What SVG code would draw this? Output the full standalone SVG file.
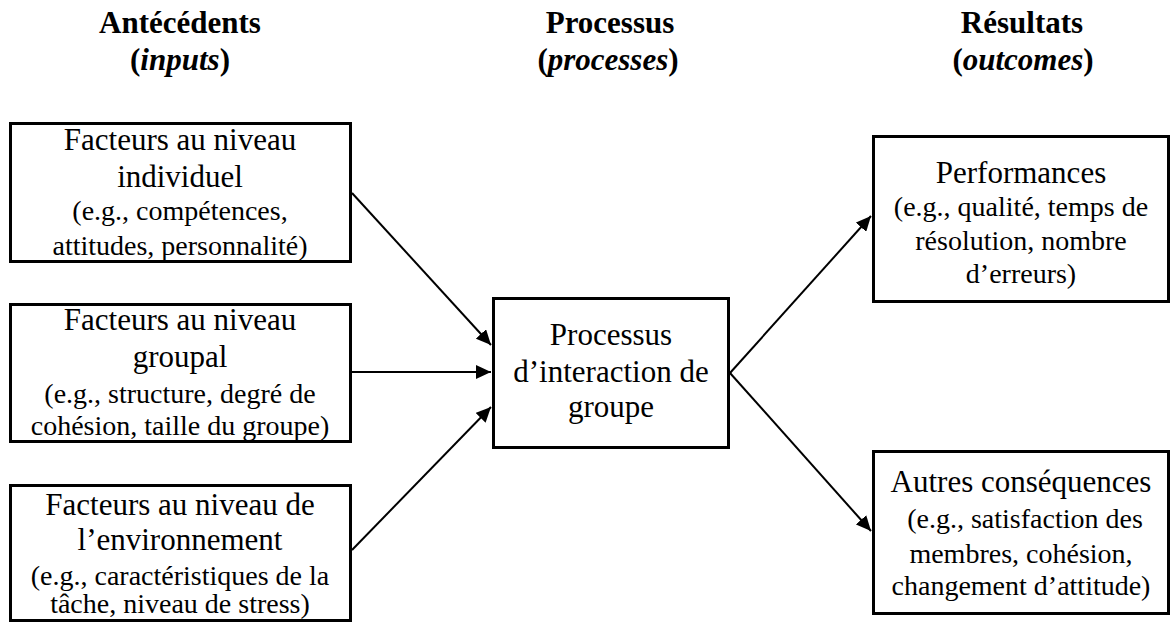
<svg xmlns="http://www.w3.org/2000/svg" width="1172" height="624" viewBox="0 0 1172 624">
<style>
.box{fill:#fff;stroke:#000;stroke-width:3}
.c{stroke:#000;stroke-width:2;fill:none}
</style>
<defs>
<marker id="ah" markerUnits="userSpaceOnUse" markerWidth="16" markerHeight="14" refX="15" refY="7" orient="auto">
<path d="M0,0 L15,7 L0,14 z" fill="#000"/>
</marker>
</defs>
<rect width="1172" height="624" fill="#fff"/>
<g id="headers" text-anchor="middle">
<text x="180" y="33" style="font-family:'Liberation Serif',serif !important;font-size:31px;font-weight:bold">Ant&#233;c&#233;dents</text>
<text x="180" y="70" style="font-family:'Liberation Serif',serif !important;font-size:31px;font-weight:bold">(<tspan font-style="italic">inputs</tspan>)</text>
<text x="610" y="33" style="font-family:'Liberation Serif',serif !important;font-size:31px;font-weight:bold">Processus</text>
<text x="608" y="70" style="font-family:'Liberation Serif',serif !important;font-size:31px;font-weight:bold">(<tspan font-style="italic">processes</tspan>)</text>
<text x="1022" y="33" style="font-family:'Liberation Serif',serif !important;font-size:31px;font-weight:bold">R&#233;sultats</text>
<text x="1023" y="70" style="font-family:'Liberation Serif',serif !important;font-size:31px;font-weight:bold">(<tspan font-style="italic">outcomes</tspan>)</text>
</g>
<g id="connectors">
<line class="c" x1="352" y1="193" x2="491" y2="345" marker-end="url(#ah)"/>
<line class="c" x1="352" y1="372" x2="491" y2="372" marker-end="url(#ah)"/>
<line class="c" x1="352" y1="550" x2="491" y2="407" marker-end="url(#ah)"/>
<line class="c" x1="730" y1="373" x2="871" y2="216" marker-end="url(#ah)"/>
<line class="c" x1="730" y1="373" x2="871" y2="531" marker-end="url(#ah)"/>
</g>
<g id="individuel" text-anchor="middle">
<rect class="box" x="10.5" y="123.5" width="340" height="138"/>
<text x="180" y="150" style="font-family:'Liberation Serif',serif !important;font-size:31px">Facteurs au niveau</text>
<text x="180" y="187" style="font-family:'Liberation Serif',serif !important;font-size:31px">individuel</text>
<text x="180" y="220" style="font-family:'Liberation Serif',serif !important;font-size:28px">(e.g., comp&#233;tences,</text>
<text x="180" y="255" style="font-family:'Liberation Serif',serif !important;font-size:28px">attitudes, personnalit&#233;)</text>
</g>
<g id="groupal" text-anchor="middle">
<rect class="box" x="10.5" y="304.5" width="340" height="137"/>
<text x="180" y="330" style="font-family:'Liberation Serif',serif !important;font-size:31px">Facteurs au niveau</text>
<text x="180" y="367" style="font-family:'Liberation Serif',serif !important;font-size:31px">groupal</text>
<text x="180" y="403" style="font-family:'Liberation Serif',serif !important;font-size:28px">(e.g., structure, degr&#233; de</text>
<text x="180" y="435" style="font-family:'Liberation Serif',serif !important;font-size:28px">coh&#233;sion, taille du groupe)</text>
</g>
<g id="environnement" text-anchor="middle">
<rect class="box" x="10.5" y="485.5" width="340" height="135"/>
<text x="180" y="515" style="font-family:'Liberation Serif',serif !important;font-size:31px">Facteurs au niveau de</text>
<text x="180" y="550" style="font-family:'Liberation Serif',serif !important;font-size:31px">l&#8217;environnement</text>
<text x="180" y="585" style="font-family:'Liberation Serif',serif !important;font-size:28px">(e.g., caract&#233;ristiques de la</text>
<text x="180" y="613" style="font-family:'Liberation Serif',serif !important;font-size:28px">t&#226;che, niveau de stress)</text>
</g>
<g id="processus" text-anchor="middle">
<rect class="box" x="493.5" y="298.5" width="235" height="149"/>
<text x="611" y="345" style="font-family:'Liberation Serif',serif !important;font-size:31px">Processus</text>
<text x="611" y="382" style="font-family:'Liberation Serif',serif !important;font-size:31px">d&#8217;interaction de</text>
<text x="611" y="417" style="font-family:'Liberation Serif',serif !important;font-size:31px">groupe</text>
</g>
<g id="performances" text-anchor="middle">
<rect class="box" x="873.5" y="136.5" width="295" height="165"/>
<text x="1021" y="183" style="font-family:'Liberation Serif',serif !important;font-size:31px">Performances</text>
<text x="1021" y="216" style="font-family:'Liberation Serif',serif !important;font-size:28px">(e.g., qualit&#233;, temps de</text>
<text x="1021" y="250" style="font-family:'Liberation Serif',serif !important;font-size:28px">r&#233;solution, nombre</text>
<text x="1021" y="283" style="font-family:'Liberation Serif',serif !important;font-size:28px">d&#8217;erreurs)</text>
</g>
<g id="autres" text-anchor="middle">
<rect class="box" x="873.5" y="451.5" width="295" height="162"/>
<text x="1021" y="492" style="font-family:'Liberation Serif',serif !important;font-size:31px">Autres cons&#233;quences</text>
<text x="1025" y="528" style="font-family:'Liberation Serif',serif !important;font-size:28px">(e.g., satisfaction des</text>
<text x="1021" y="563" style="font-family:'Liberation Serif',serif !important;font-size:28px">membres, coh&#233;sion,</text>
<text x="1021" y="595" style="font-family:'Liberation Serif',serif !important;font-size:28px">changement d&#8217;attitude)</text>
</g>
</svg>
